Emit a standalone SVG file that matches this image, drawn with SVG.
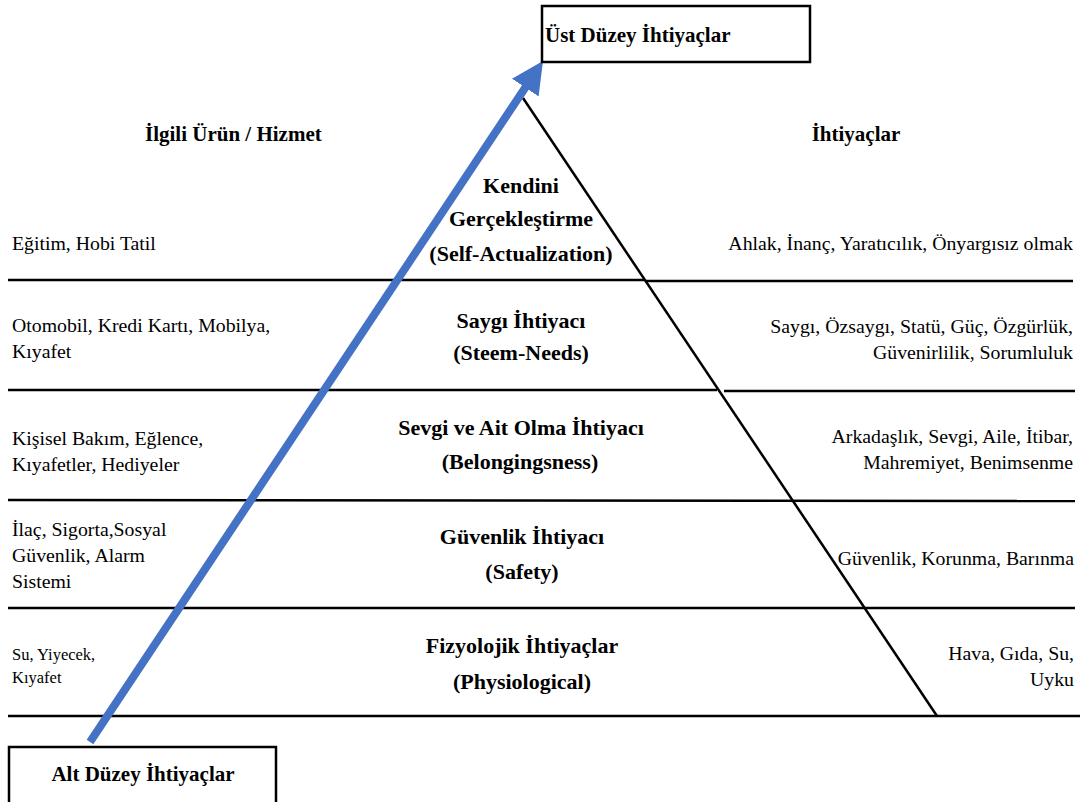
<svg xmlns="http://www.w3.org/2000/svg" width="1088" height="802" viewBox="0 0 1088 802">
<defs>
<style>
.ln{stroke:#000;stroke-width:2.5;fill:none}
.box{stroke:#000;stroke-width:2.5;fill:#fff}
.t{font-family:"Liberation Serif","Times New Roman",serif;font-size:19.8px;fill:#000}
.b{font-family:"Liberation Serif","Times New Roman",serif;font-size:22px;font-weight:bold;fill:#000}
.h{font-size:21px}
.c{text-anchor:middle}
.r{text-anchor:end}
</style>
<marker id="ah" markerWidth="4" markerHeight="4" refX="2.2" refY="2" orient="auto" markerUnits="strokeWidth">
<path d="M0,0 L4,2 L0,4 Z" fill="#4472C4"/>
</marker>
</defs>
<rect width="1088" height="802" fill="#fff"/>
<g id="connectors">
<line class="ln" x1="8" y1="280" x2="645" y2="280"/>
<line class="ln" x1="645" y1="281" x2="1073" y2="281"/>
<line class="ln" x1="8" y1="390" x2="717" y2="390"/>
<line class="ln" x1="724" y1="391" x2="1075" y2="391"/>
<line class="ln" x1="8" y1="500" x2="1075" y2="501"/>
<line class="ln" x1="8" y1="608" x2="1075" y2="608"/>
<line class="ln" x1="8" y1="716" x2="1080" y2="716"/>
<line class="ln" x1="523" y1="98" x2="937" y2="716"/>
<line x1="90" y1="742" x2="535" y2="73" stroke="#4472C4" stroke-width="8" marker-end="url(#ah)"/>
</g>
<g id="top-box">
<rect class="box" x="542" y="6" width="268" height="56"/>
<text class="b h" x="545" y="42">Üst Düzey İhtiyaçlar</text>
</g>
<g id="bottom-box">
<rect class="box" x="9" y="747" width="267" height="60"/>
<text class="b h c" x="143" y="781">Alt Düzey İhtiyaçlar</text>
</g>
<g id="headers">
<text class="b h" x="145" y="141">İlgili Ürün / Hizmet</text>
<text class="b h c" x="856" y="141">İhtiyaçlar</text>
</g>
<g id="level-self">
<text class="b c" x="521" y="193">Kendini</text>
<text class="b c" x="521" y="226">Gerçekleştirme</text>
<text class="b c" x="521" y="261">(Self-Actualization)</text>
<text class="t" x="12" y="250">Eğitim, Hobi Tatil</text>
<text class="t r" x="1073" y="250">Ahlak, İnanç, Yaratıcılık, Önyargısız olmak</text>
</g>
<g id="level-esteem">
<text class="b c" x="521" y="328">Saygı İhtiyacı</text>
<text class="b c" x="521" y="360">(Steem-Needs)</text>
<text class="t" x="12" y="332">Otomobil, Kredi Kartı, Mobilya,</text>
<text class="t" x="12" y="358">Kıyafet</text>
<text class="t r" x="1073" y="333">Saygı, Özsaygı, Statü, Güç, Özgürlük,</text>
<text class="t r" x="1073" y="359">Güvenirlilik, Sorumluluk</text>
</g>
<g id="level-belonging">
<text class="b c" x="521" y="435">Sevgi ve Ait Olma İhtiyacı</text>
<text class="b c" x="520" y="469">(Belongingsness)</text>
<text class="t" x="12" y="445">Kişisel Bakım, Eğlence,</text>
<text class="t" x="12" y="471">Kıyafetler, Hediyeler</text>
<text class="t r" x="1073" y="443">Arkadaşlık, Sevgi, Aile, İtibar,</text>
<text class="t r" x="1073" y="469">Mahremiyet, Benimsenme</text>
</g>
<g id="level-safety">
<text class="b c" x="522" y="544">Güvenlik İhtiyacı</text>
<text class="b c" x="522" y="579">(Safety)</text>
<text class="t" x="12" y="536">İlaç, Sigorta,Sosyal</text>
<text class="t" x="12" y="562">Güvenlik, Alarm</text>
<text class="t" x="12" y="588">Sistemi</text>
<text class="t r" x="1074" y="565">Güvenlik, Korunma, Barınma</text>
</g>
<g id="level-physio">
<text class="b c" x="522" y="653">Fizyolojik İhtiyaçlar</text>
<text class="b c" x="522" y="689">(Physiological)</text>
<text class="t" x="12" y="660" style="font-size:16.5px">Su, Yiyecek,</text>
<text class="t" x="12" y="683" style="font-size:16.5px">Kıyafet</text>
<text class="t r" x="1074" y="660">Hava, Gıda, Su,</text>
<text class="t r" x="1074" y="686">Uyku</text>
</g>
</svg>
